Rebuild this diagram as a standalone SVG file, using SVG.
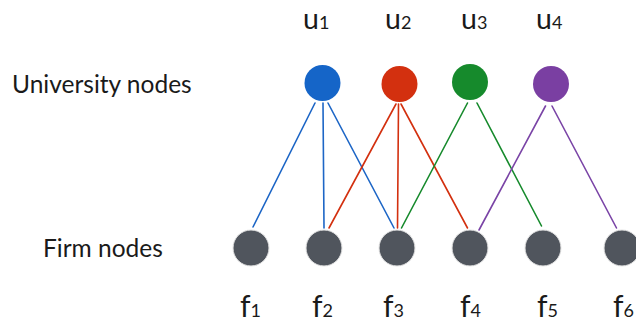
<svg xmlns="http://www.w3.org/2000/svg" width="636" height="323" viewBox="0 0 636 323">
<style>
.lbl{font-family:"Lato","Open Sans","Liberation Sans",sans-serif;fill:#1a1a1a;}
.big{font-size:30px;}
.ub{font-size:28.5px;}
.sub{font-size:18px;}
.side{font-size:24.5px;}
.firm{fill:#50555d;stroke:#e4e4e4;stroke-width:1;}
.e{stroke-width:1.6;fill:none;stroke-linecap:round;}
.b{stroke:#1d66c6;}
.r{stroke:#d3300f;}
.g{stroke:#168a2c;}
.p{stroke:#7a44a6;}
</style>
<rect width="636" height="323" fill="#ffffff"/>
<text class="lbl side" x="12" y="93">University nodes</text>
<text class="lbl side" x="43" y="257">Firm nodes</text>
<g id="connectors">
<line class="e b" x1="315" y1="103" x2="253" y2="227"/>
<line class="e b" x1="323" y1="103" x2="324" y2="228"/>
<line class="e b" x1="328" y1="103" x2="394" y2="228"/>
<line class="e r" x1="396" y1="104" x2="329" y2="228"/>
<line class="e r" x1="398.5" y1="104" x2="397.5" y2="228"/>
<line class="e r" x1="401" y1="104" x2="467.5" y2="228"/>
<line class="e g" x1="467.5" y1="103" x2="401.5" y2="228"/>
<line class="e g" x1="477" y1="103" x2="541.5" y2="226"/>
<line class="e p" x1="545.5" y1="106" x2="479" y2="230"/>
<line class="e p" x1="552" y1="106" x2="616.5" y2="228"/>
</g>
<g id="u1"><circle cx="322.5" cy="83" r="18" fill="#1565c8"/><text class="lbl ub" x="303" y="28.5">u<tspan class="sub">1</tspan></text></g>
<g id="u2"><circle cx="399.5" cy="84" r="18" fill="#d3300f"/><text class="lbl ub" x="385" y="28.5">u<tspan class="sub">2</tspan></text></g>
<g id="u3"><circle cx="470" cy="82" r="18" fill="#168a2c"/><text class="lbl ub" x="461" y="28.5">u<tspan class="sub">3</tspan></text></g>
<g id="u4"><circle cx="551" cy="84" r="18" fill="#7a3fa2"/><text class="lbl ub" x="536" y="28.5">u<tspan class="sub">4</tspan></text></g>
<g id="f1"><circle class="firm" cx="251" cy="248" r="18"/><text class="lbl big" x="240" y="317">f<tspan class="sub">1</tspan></text></g>
<g id="f2"><circle class="firm" cx="324" cy="248" r="18"/><text class="lbl big" x="312" y="317">f<tspan class="sub">2</tspan></text></g>
<g id="f3"><circle class="firm" cx="397" cy="248" r="18"/><text class="lbl big" x="383" y="317">f<tspan class="sub">3</tspan></text></g>
<g id="f4"><circle class="firm" cx="470" cy="248" r="18"/><text class="lbl big" x="460" y="317">f<tspan class="sub">4</tspan></text></g>
<g id="f5"><circle class="firm" cx="543" cy="248" r="18"/><text class="lbl big" x="537" y="317">f<tspan class="sub">5</tspan></text></g>
<g id="f6"><circle class="firm" cx="622" cy="248" r="18"/><text class="lbl big" x="613" y="317">f<tspan class="sub">6</tspan></text></g>
</svg>
